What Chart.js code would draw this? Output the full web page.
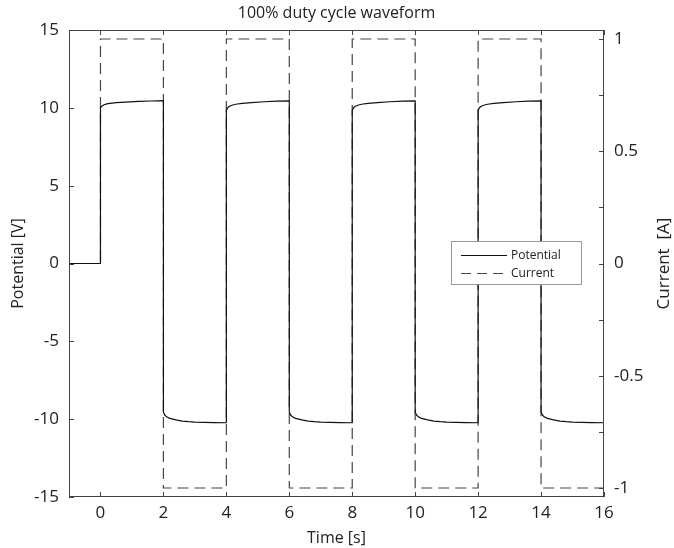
<!DOCTYPE html>
<html>
<head>
<meta charset="utf-8">
<script src="https://cdn.jsdelivr.net/npm/chart.js@4"></script>
<style>
  html, body { margin: 0; padding: 0; background: #fff; }
  #wrap { width: 674px; height: 548px; }
</style>
</head>
<body>
<div id="wrap"><canvas id="waveChart" width="674" height="548"></canvas></div>
<script>
// Potential trace (time in s, potential in V)
const timeS = [
  -1, 0,
  0, 0.05, 0.1, 0.2, 0.3, 0.5, 0.8, 1.2, 1.6, 2,
  2, 2.05, 2.1, 2.2, 2.4, 2.6, 2.8, 3, 3.3, 3.6, 4,
  4, 4.05, 4.1, 4.2, 4.3, 4.5, 4.8, 5.2, 5.6, 6,
  6, 6.05, 6.1, 6.2, 6.4, 6.6, 6.8, 7, 7.3, 7.6, 8,
  8, 8.05, 8.1, 8.2, 8.3, 8.5, 8.8, 9.2, 9.6, 10,
  10, 10.05, 10.1, 10.2, 10.4, 10.6, 10.8, 11, 11.3, 11.6, 12,
  12, 12.05, 12.1, 12.2, 12.3, 12.5, 12.8, 13.2, 13.6, 14,
  14, 14.05, 14.1, 14.2, 14.4, 14.6, 14.8, 15, 15.3, 15.6, 16
];
const potentialV = [
  0, 0,
  10.0, 10.12, 10.18, 10.25, 10.29, 10.33, 10.37, 10.41, 10.44, 10.46,
  -9.55, -9.75, -9.85, -9.95, -10.05, -10.12, -10.16, -10.19, -10.21, -10.22, -10.23,
  9.85, 10.02, 10.1, 10.18, 10.23, 10.29, 10.34, 10.39, 10.43, 10.45,
  -9.55, -9.75, -9.85, -9.95, -10.05, -10.12, -10.16, -10.19, -10.21, -10.22, -10.23,
  9.85, 10.02, 10.1, 10.18, 10.23, 10.29, 10.34, 10.39, 10.43, 10.45,
  -9.55, -9.75, -9.85, -9.95, -10.05, -10.12, -10.16, -10.19, -10.21, -10.22, -10.23,
  9.85, 10.02, 10.1, 10.18, 10.23, 10.29, 10.34, 10.39, 10.43, 10.45,
  -9.55, -9.75, -9.85, -9.95, -10.05, -10.12, -10.16, -10.19, -10.21, -10.22, -10.23
];

// Current square wave (time in s, current in A)
const currentTimeS = [-1, 0, 0, 2, 2, 4, 4, 6, 6, 8, 8, 10, 10, 12, 12, 14, 14, 16];
const currentA = [0, 0, 1, 1, -1, -1, 1, 1, -1, -1, 1, 1, -1, -1, 1, 1, -1, -1];

// Tick values
const xTicks = [0, 2, 4, 6, 8, 10, 12, 14, 16];
const yTicks = [-15, -10, -5, 0, 5, 10, 15];
const y2Ticks = [-1, -0.75, -0.5, -0.25, 0, 0.25, 0.5, 0.75, 1];

const FONT = '"Open Sans", "DejaVu Sans", sans-serif';
const INK = '#222';

function toPoints(xs, ys) {
  return xs.map((x, i) => ({ x: x, y: ys[i] }));
}

// Box, inward tick marks, titles and the legend
const decorPlugin = {
  id: 'decor',
  afterDatasetsDraw(chart) {
    const ctx = chart.ctx;
    const area = chart.chartArea;
    const sx = chart.scales.x, sy = chart.scales.y, sy2 = chart.scales.y2;
    const tl = 5;

    ctx.save();
    ctx.strokeStyle = '#444';
    ctx.lineWidth = 1;
    ctx.strokeRect(area.left + 0.5, area.top + 0.5, area.right - area.left - 1, area.bottom - area.top - 1);

    ctx.beginPath();
    sx.ticks.forEach(t => {
      const px = Math.round(sx.getPixelForValue(t.value)) + 0.5;
      ctx.moveTo(px, area.bottom); ctx.lineTo(px, area.bottom - tl);
      ctx.moveTo(px, area.top); ctx.lineTo(px, area.top + tl);
    });
    sy.ticks.forEach(t => {
      const py = Math.round(sy.getPixelForValue(t.value)) + 0.5;
      ctx.moveTo(area.left, py); ctx.lineTo(area.left + tl, py);
    });
    sy2.ticks.forEach(t => {
      const py = Math.round(sy2.getPixelForValue(t.value)) + 0.5;
      ctx.moveTo(area.right, py); ctx.lineTo(area.right - tl, py);
    });
    ctx.stroke();

    // titles
    ctx.fillStyle = INK;
    ctx.textAlign = 'center';
    ctx.textBaseline = 'middle';
    ctx.font = '16px ' + FONT;
    ctx.fillText('100% duty cycle waveform', (area.left + area.right) / 2, 13);
    ctx.fillText('Time [s]', (area.left + area.right) / 2, 538);

    ctx.save();
    ctx.translate(18, (area.top + area.bottom) / 2);
    ctx.rotate(-Math.PI / 2);
    ctx.fillText('Potential [V]', 0, 0);
    ctx.restore();

    ctx.save();
    ctx.translate(664, (area.top + area.bottom) / 2);
    ctx.rotate(-Math.PI / 2);
    ctx.font = '17px ' + FONT;
    ctx.fillText('Current  [A]', 0, 0);
    ctx.restore();

    // legend
    const lx = 451, ly = 241, lw = 130, lh = 43;
    ctx.fillStyle = '#fff';
    ctx.fillRect(lx, ly, lw, lh);
    ctx.strokeStyle = '#999';
    ctx.strokeRect(lx + 0.5, ly + 0.5, lw, lh);
    ctx.lineWidth = 1.2;
    ctx.strokeStyle = '#111';
    ctx.beginPath(); ctx.moveTo(461, 255.5); ctx.lineTo(507, 255.5); ctx.stroke();
    ctx.strokeStyle = '#444';
    ctx.setLineDash([10, 6]);
    ctx.beginPath(); ctx.moveTo(461, 273.5); ctx.lineTo(507, 273.5); ctx.stroke();
    ctx.setLineDash([]);
    ctx.fillStyle = INK;
    ctx.textAlign = 'left';
    ctx.font = '12px ' + FONT;
    ctx.fillText('Potential', 511, 256);
    ctx.fillText('Current', 511, 274);
    ctx.restore();
  }
};

new Chart(document.getElementById('waveChart'), {
  type: 'line',
  data: {
    datasets: [
      {
        label: 'Potential',
        data: toPoints(timeS, potentialV),
        yAxisID: 'y',
        borderColor: '#111',
        borderWidth: 1.2,
        pointRadius: 0,
        tension: 0,
        order: 0
      },
      {
        label: 'Current',
        data: toPoints(currentTimeS, currentA),
        yAxisID: 'y2',
        borderColor: '#444',
        borderWidth: 1.2,
        borderDash: [11, 6],
        pointRadius: 0,
        tension: 0,
        order: 1
      }
    ]
  },
  options: {
    responsive: false,
    animation: false,
    layout: { padding: { top: 30, left: 0, right: 0, bottom: 0 } },
    plugins: {
      legend: { display: false },
      title: { display: false },
      tooltip: { enabled: false }
    },
    scales: {
      x: {
        type: 'linear',
        min: -1,
        max: 16,
        grid: { display: false, drawTicks: false },
        border: { display: false },
        afterBuildTicks: s => { s.ticks = xTicks.map(v => ({ value: v })); },
        afterFit: s => { s.height = 51; },
        ticks: {
          padding: 6,
          color: INK,
          font: { family: FONT, size: 17 },
          callback: v => String(v)
        }
      },
      y: {
        position: 'left',
        min: -15,
        max: 15,
        grid: { display: false, drawTicks: false },
        border: { display: false },
        afterBuildTicks: s => { s.ticks = yTicks.map(v => ({ value: v })); },
        afterFit: s => { s.width = 69; },
        ticks: {
          padding: 10,
          color: INK,
          font: { family: FONT, size: 17 },
          callback: v => String(v)
        }
      },
      y2: {
        position: 'right',
        min: -1.04,
        max: 1.04,
        grid: { display: false, drawTicks: false },
        border: { display: false },
        afterBuildTicks: s => { s.ticks = y2Ticks.map(v => ({ value: v })); },
        afterFit: s => { s.width = 70; },
        ticks: {
          padding: 10,
          color: INK,
          font: { family: FONT, size: 17 },
          callback: v => (Math.abs(v * 2 - Math.round(v * 2)) < 1e-9 ? String(v) : '')
        }
      }
    }
  },
  plugins: [decorPlugin]
});
</script>
</body>
</html>
